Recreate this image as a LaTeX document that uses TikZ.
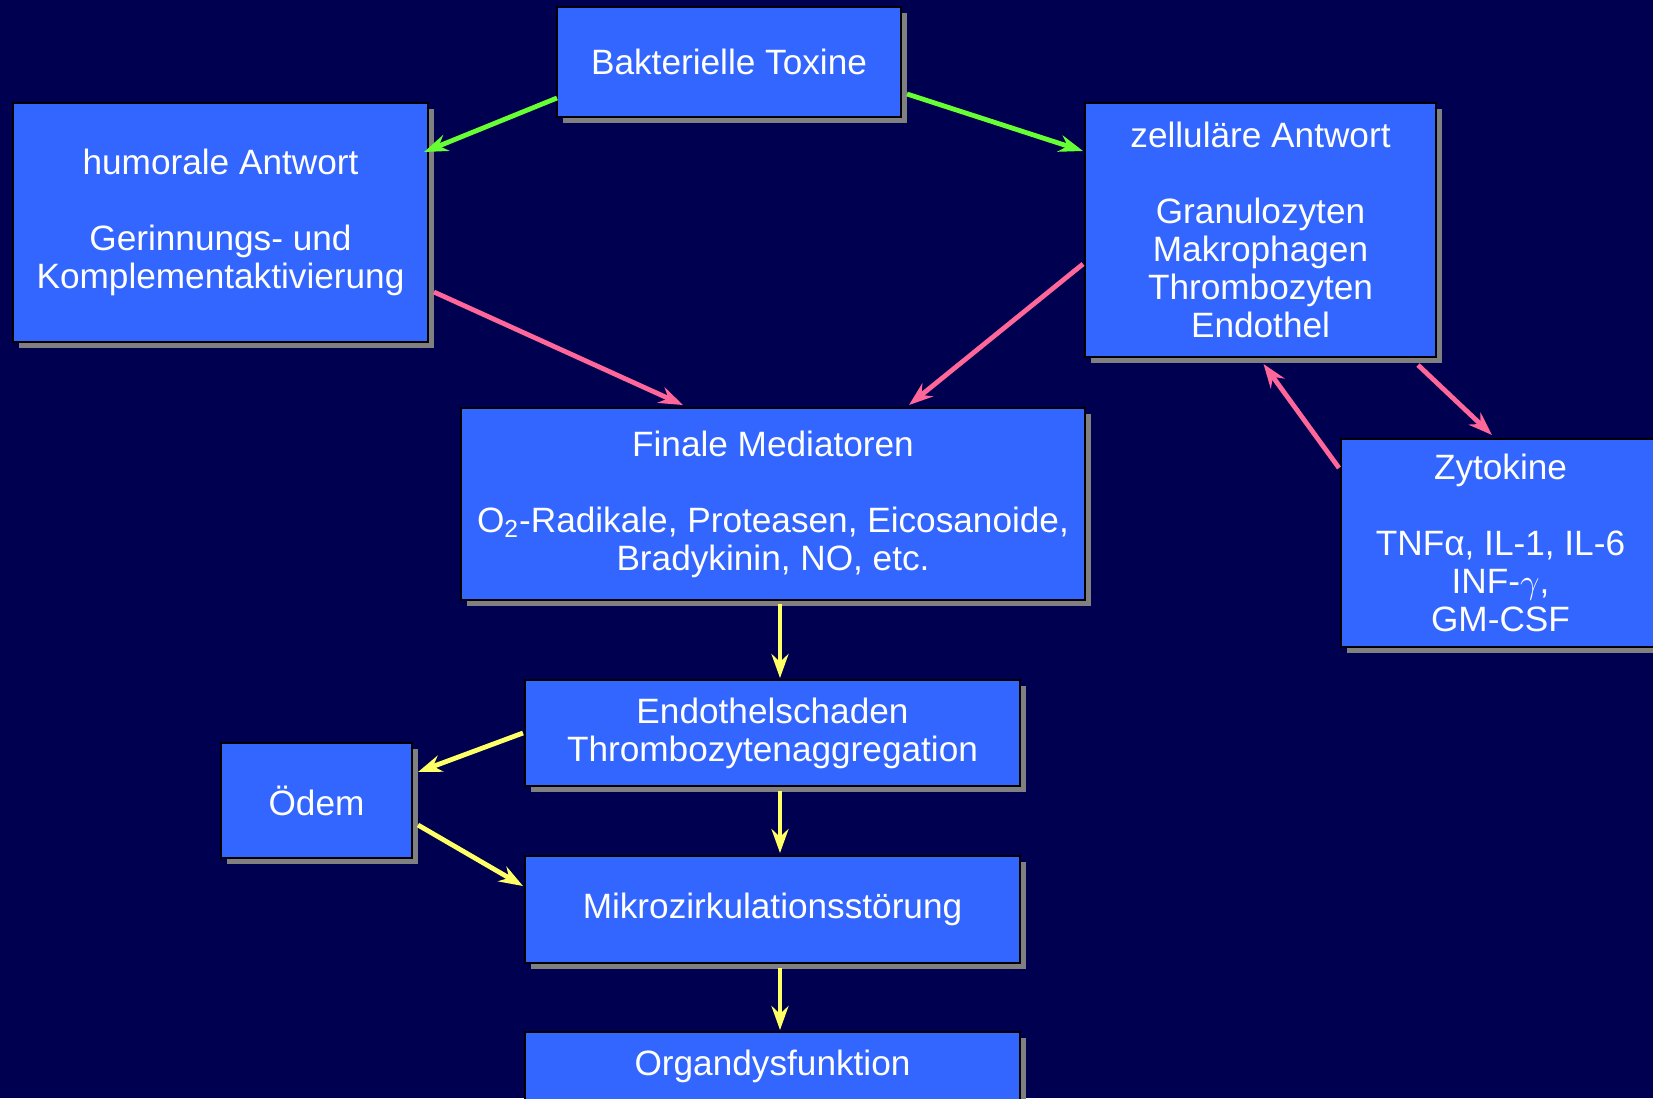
\documentclass[tikz,border=0pt]{standalone}
\usepackage{fontspec}
\setmainfont{Liberation Sans}
\usetikzlibrary{arrows.meta,shadows,calc}
\definecolor{bg}{HTML}{000050}
\definecolor{boxblue}{HTML}{3366FF}
\definecolor{shadowgray}{HTML}{808080}
\definecolor{agreen}{HTML}{66FF33}
\definecolor{apink}{HTML}{FF6699}
\definecolor{ayellow}{HTML}{FFFF66}
\begin{document}
\begin{tikzpicture}[x=0.5pt,y=-0.5pt,
 box/.style={draw=black, line width=0.8pt, fill=boxblue, text=white, align=center,
   inner sep=0pt, outer sep=0pt, font=\fontsize{17.6}{19}\selectfont,
   drop shadow={shadow xshift=3pt, shadow yshift=-3pt, fill=shadowgray, opacity=1}},
 conn/.style={line width=2.4pt, -{Stealth[length=12pt,width=8.5pt,inset=4pt]}},
]
\useasboundingbox (0,0) rectangle (1653,1098);
\fill[bg] (0,0) rectangle (1653,1098);
\clip (0,0) rectangle (1653,1098);

\node[box, minimum width=172pt, minimum height=55pt] (bt) at (729,62) {Bakterielle Toxine};
\node[box, minimum width=207.5pt, minimum height=119.5pt] (hum) at (220.5,222.5)
  {\raisebox{-1.5pt}{humorale Antwort}\\[19pt]\raisebox{-1.5pt}{Gerinnungs- und}\\\raisebox{-1.5pt}{Komplementaktivierung}};
\node[box, minimum width=175.5pt, minimum height=127pt] (zel) at (1260.5,230)
  {zelluläre Antwort\\[19pt]Granulozyten\\Makrophagen\\Thrombozyten\\Endothel};
\node[box, minimum width=312pt, minimum height=96pt] (fin) at (773,504)
  {Finale Mediatoren\\[19pt]O\textsubscript{2}-Radikale, Proteasen, Eicosanoide,\\Bradykinin, NO, etc.};
\node[box, minimum width=159.5pt, minimum height=104pt] (zyt) at (1500.5,543)
  {Zytokine\\[19pt]TNFα, IL-1, IL-6\\INF-$\gamma$,\\GM-CSF};
\node[box, minimum width=247.5pt, minimum height=53pt] (end) at (772.5,733)
  {Endothelschaden\\Thrombozytenaggregation};
\node[box, minimum width=95.5pt, minimum height=57.5pt] (odem) at (316.5,800.5) {Ödem};
\node[box, minimum width=247.5pt, minimum height=53.5pt] (mik) at (772.5,909.5) {Mikrozirkulationsstörung};
\node[box, minimum width=247.5pt, minimum height=34pt] (org) at (772.5,1066) {Organdysfunktion};

\draw[conn, agreen] ($(bt.west)+(0,36)$) -- ($(hum.north east)+(-4,49)$);
\draw[conn, agreen] ($(bt.east)+(6,32)$) -- ($(zel.north west)+(-2,48)$);
\draw[conn, apink] ($(hum.south east)+(6,-50)$) -- ($(fin.north west)+(222,-3)$);
\draw[conn, apink] ($(zel.west)+(-2,34)$) -- ($(fin.north east)+(-176,-3)$);
\draw[conn, apink] ($(zel.south east)+(-18,8)$) -- ($(zyt.north west)+(151,-4)$);
\draw[conn, apink] ($(zyt.north west)+(-2,29)$) -- ($(zel.south)+(3,7)$);
\draw[conn, ayellow] ($(fin.south)+(7,4)$) -- ($(end.north)+(7.5,-2)$);
\draw[conn, ayellow] ($(end.west)+(-2,0)$) -- ($(odem.north east)+(6,29)$);
\draw[conn, ayellow] ($(odem.east)+(6,24.5)$) -- ($(mik.west)+(-2,-23.5)$);
\draw[conn, ayellow] ($(end.south)+(7.5,5)$) -- ($(mik.north)+(7.5,-3)$);
\draw[conn, ayellow] ($(mik.south)+(7.5,5)$) -- ($(org.north)+(7.5,-2)$);
\end{tikzpicture}
\end{document}
